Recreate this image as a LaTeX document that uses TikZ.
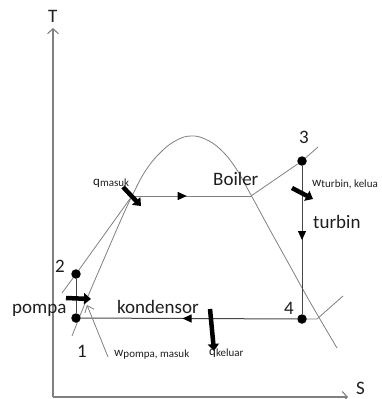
\documentclass[tikz,border=0pt]{standalone}
\usepackage{fontspec}
\setmainfont{Carlito}
\usetikzlibrary{arrows.meta,decorations.markings}
\definecolor{curvegray}{RGB}{128,128,128}
\definecolor{cyclegray}{RGB}{70,70,70}
\definecolor{textdark}{RGB}{30,30,30}
\newcommand{\sublbl}[2]{#1\raisebox{-1.5pt}{\fontsize{11}{12}\selectfont #2}}

\begin{document}
\begin{tikzpicture}[x=1pt, y=-1pt, font=\fontsize{19}{21}\selectfont,
      statept/.style={circle, fill=black, inner sep=0pt, minimum size=9.5pt},
      lbl/.style={inner sep=0pt, anchor=base west, text=textdark},
      flowlbl/.style={lbl, font=\fontsize{13}{15}\selectfont},
      axisline/.style={draw=curvegray, line width=1.1pt, -{Straight Barb[length=5pt,width=11pt]}},
      curve/.style={draw=curvegray, line width=0.8pt},
      cycleline/.style={draw=cyclegray, line width=1pt},
      midtip/.style={postaction={decorate}, decoration={markings,
          mark=at position #1 with {\arrow[black]{Triangle[length=9pt,width=8pt]}}}},
      heat/.style={line width=4.5pt, -{Triangle[length=7pt,width=11pt]}}]
    \useasboundingbox (0,0) rectangle (382,399);
    % axes
    \coordinate (orig) at (53,397);
    \coordinate (tEnd) at (53,28);
    \coordinate (sEnd) at (348,397);
    \draw[axisline] (orig) -- (tEnd);
    \draw[axisline] (orig) -- (sEnd);
    \node[lbl] (tlab) at (48,22) {T};
    \node[lbl] (slab) at (356,394) {S};
    % saturation dome
    \draw[curve] plot[smooth, tension=0.7] coordinates {(72,336) (86,301) (104,259) (120,222) (132,196)
        (146,170) (162,151) (177,140) (191,136) (205,139) (220,149) (235,167) (251,195)
        (270,230) (290,266) (310,302) (337,348)};
    % states
    \node[statept] (s1) at (76,318) {};
    \node[statept] (s2) at (76,274) {};
    \node[statept] (s3) at (302,161) {};
    \node[statept] (s4) at (302,319) {};
    \coordinate (hpLow) at (62,293);
    \coordinate (satLiq) at (132,196);
    \coordinate (satVap) at (251,196);
    \coordinate (hpHigh) at (318,147);
    \coordinate (lpBend) at (317,319);
    \coordinate (lpHigh) at (343,296);
    % cycle
    \draw[curve] (hpLow) -- (s2);
    \draw[cycleline] (s1) -- (s2);
    \draw[curve] (s2) -- (satLiq);
    \draw[curve, midtip=0.46] (satLiq) -- (satVap);
    \draw[curve] (satVap) -- (s3);
    \draw[curve] (s3) -- (hpHigh);
    \draw[cycleline, midtip=0.5] (s3) -- (s4);
    \draw[cycleline, midtip=0.53] (s4) -- (s1);
    \draw[curve] (s4) -- (lpBend) -- (lpHigh);
    % heat and work
    \coordinate (qinA) at (123,187);
    \coordinate (qinB) at (141,206);
    \coordinate (pumpA) at (66,298);
    \coordinate (pumpB) at (91,299);
    \coordinate (turbA) at (292,188);
    \coordinate (turbB) at (313,199);
    \coordinate (qoutA) at (210,309);
    \coordinate (qoutB) at (214,351);
    \draw[heat] (qinA) -- (qinB);
    \draw[heat] (pumpA) -- (pumpB);
    \draw[heat] (turbA) -- (turbB);
    \draw[heat] (qoutA) -- (qoutB);
    \coordinate (wpumpTail) at (108,357);
    \coordinate (wpumpTip) at (87,305);
    \draw[curve, -{Straight Barb[length=6pt,width=10pt]}] (wpumpTail) -- (wpumpTip);
    % labels
    \node[lbl] (n1) at (77,357) {1};
    \node[lbl] (n2) at (55,272) {2};
    \node[lbl] (n3) at (299,143) {3};
    \node[lbl] (n4) at (284,314) {4};
    \node[lbl] (boiler) at (213,185) {Boiler};
    \node[lbl] (turbin) at (313,228) {turbin};
    \node[lbl] (pompa) at (12,313) {pompa};
    \node[lbl] (kond) at (117,313) {kondensor};
    \node[flowlbl] (qin) at (93,185) {\sublbl{q}{masuk}};
    \node[flowlbl] (wturb) at (312,186) {\sublbl{w}{turbin, kelua}};
    \node[flowlbl] (wpump) at (114,356) {\sublbl{w}{pompa, masuk}};
    \node[flowlbl] (qout) at (209,355) {\sublbl{q}{keluar}};
  \end{tikzpicture}
\end{document}
